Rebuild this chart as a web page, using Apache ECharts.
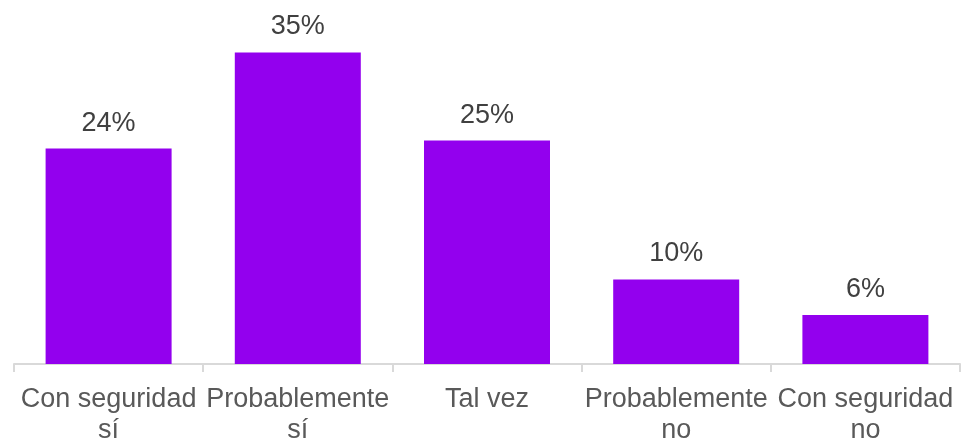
<!DOCTYPE html>
<html>
<head>
<meta charset="utf-8">
<script src="https://cdn.jsdelivr.net/npm/echarts@6/dist/echarts.min.js"></script>
<style>
  html, body { margin: 0; padding: 0; background: #fff; }
  #chart { width: 962px; height: 442px; }
</style>
</head>
<body>
<div id="chart"></div>
<script>
// respuestas
const categories = ['Con seguridad\nsí', 'Probablemente\nsí', 'Tal vez', 'Probablemente\nno', 'Con seguridad\nno'];
const values = [24.2, 35.0, 25.1, 9.5, 5.5];

const chart = echarts.init(document.getElementById('chart'), null, { renderer: 'canvas' });

chart.setOption({
  backgroundColor: '#ffffff',
  animation: false,
  grid: { left: 14, right: 2, top: 8, bottom: 78, containLabel: false, outerBoundsMode: 'none' },
  xAxis: {
    type: 'category',
    data: categories,
    axisLine: { lineStyle: { color: '#d9d9d9', width: 2 } },
    axisTick: { show: true, length: 8, lineStyle: { color: '#d9d9d9', width: 2 } },
    axisLabel: {
      interval: 0,
      margin: 20,
      color: '#595959',
      fontFamily: '"Liberation Sans", Arial, sans-serif',
      fontSize: 27,
      lineHeight: 31
    }
  },
  yAxis: {
    type: 'value',
    min: 0,
    max: 40,
    show: false,
    splitLine: { show: false }
  },
  series: [{
    type: 'bar',
    data: values,
    barWidth: 126,
    itemStyle: { color: '#9300ee' },
    label: {
      show: true,
      position: 'top',
      distance: 12,
      color: '#404040',
      fontFamily: '"Liberation Sans", Arial, sans-serif',
      fontSize: 27,
      formatter: p => Math.round(p.value) + '%'
    }
  }]
});
</script>
</body>
</html>
